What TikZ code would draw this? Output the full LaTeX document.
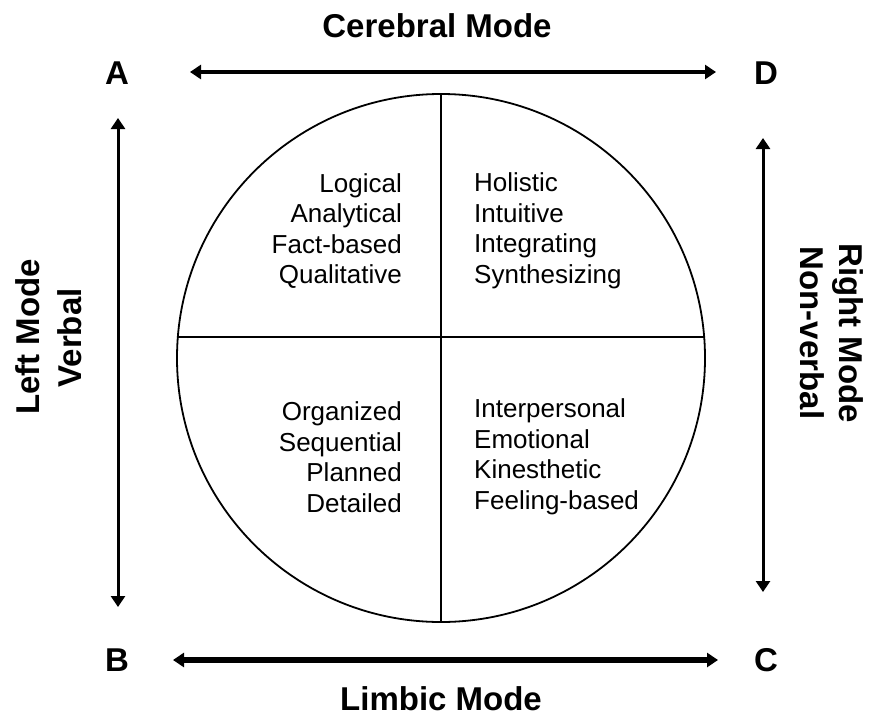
\documentclass[tikz,border=0pt]{standalone}
\usepackage{fontspec}
\setmainfont{Liberation Sans}
\usetikzlibrary{arrows.meta}
\tikzset{
  lbl/.style={font=\fontsize{33}{36}\selectfont\bfseries, inner sep=0pt},
  quad/.style={font=\fontsize{26}{30.5}\selectfont, inner sep=0pt},
  dblarrow/.style={{Triangle[length=11pt,width=14pt]}-{Triangle[length=11pt,width=14pt]}},
}
\begin{document}
\begin{tikzpicture}[x=1pt,y=-1pt]
\useasboundingbox (0,0) rectangle (869,717);
% circle and quadrant lines
\node[draw, circle, line width=1.8pt, minimum size=528pt, inner sep=0pt] (circ) at (441,358) {};
\coordinate (vt) at (441,94);
\coordinate (vb) at (441,622);
\coordinate (hl) at (177,337);
\coordinate (hr) at (705,337);
\draw[line width=2pt] (vt) -- (vb);
\draw[line width=2pt] (hl) -- (hr);
% corner letters
\node[lbl] (A) at (117,73) {A};
\node[lbl] (D) at (766,73) {D};
\node[lbl] (B) at (117,660) {B};
\node[lbl] (C) at (766,660) {C};
% mode titles
\node[lbl] (cer) at (437,26) {Cerebral Mode};
\node[lbl] (lim) at (441,699) {Limbic Mode};
\node[lbl, rotate=90] (lm) at (28,337) {Left Mode};
\node[lbl, rotate=90] (vb2) at (70,338) {Verbal};
\node[lbl, rotate=-90] (rm) at (848,333) {Right Mode};
\node[lbl, rotate=-90] (nv) at (812,333) {Non-verbal};
% arrows
\coordinate (t1) at (190,72);
\coordinate (t2) at (716,72);
\coordinate (b1) at (173,660);
\coordinate (b2) at (718,660);
\coordinate (l1) at (118,118);
\coordinate (l2) at (118,607);
\coordinate (r1) at (763,138);
\coordinate (r2) at (763,592);
\draw[dblarrow, line width=4pt] (t1) -- (t2);
\draw[dblarrow, line width=5.5pt] (b1) -- (b2);
\draw[dblarrow, line width=3pt] (l1) -- (l2);
\draw[dblarrow, line width=3pt] (r1) -- (r2);
% quadrant texts
\node[quad, align=right, anchor=east] (q1) at (402,231) {Logical\\Analytical\\Fact-based\\Qualitative};
\node[quad, align=left, anchor=west] (q2) at (474,231) {Holistic\\Intuitive\\Integrating\\Synthesizing};
\node[quad, align=right, anchor=east] (q3) at (402,457) {Organized\\Sequential\\Planned\\Detailed};
\node[quad, align=left, anchor=west] (q4) at (474,457) {Interpersonal\\Emotional\\Kinesthetic\\Feeling-based};
\end{tikzpicture}
\end{document}
